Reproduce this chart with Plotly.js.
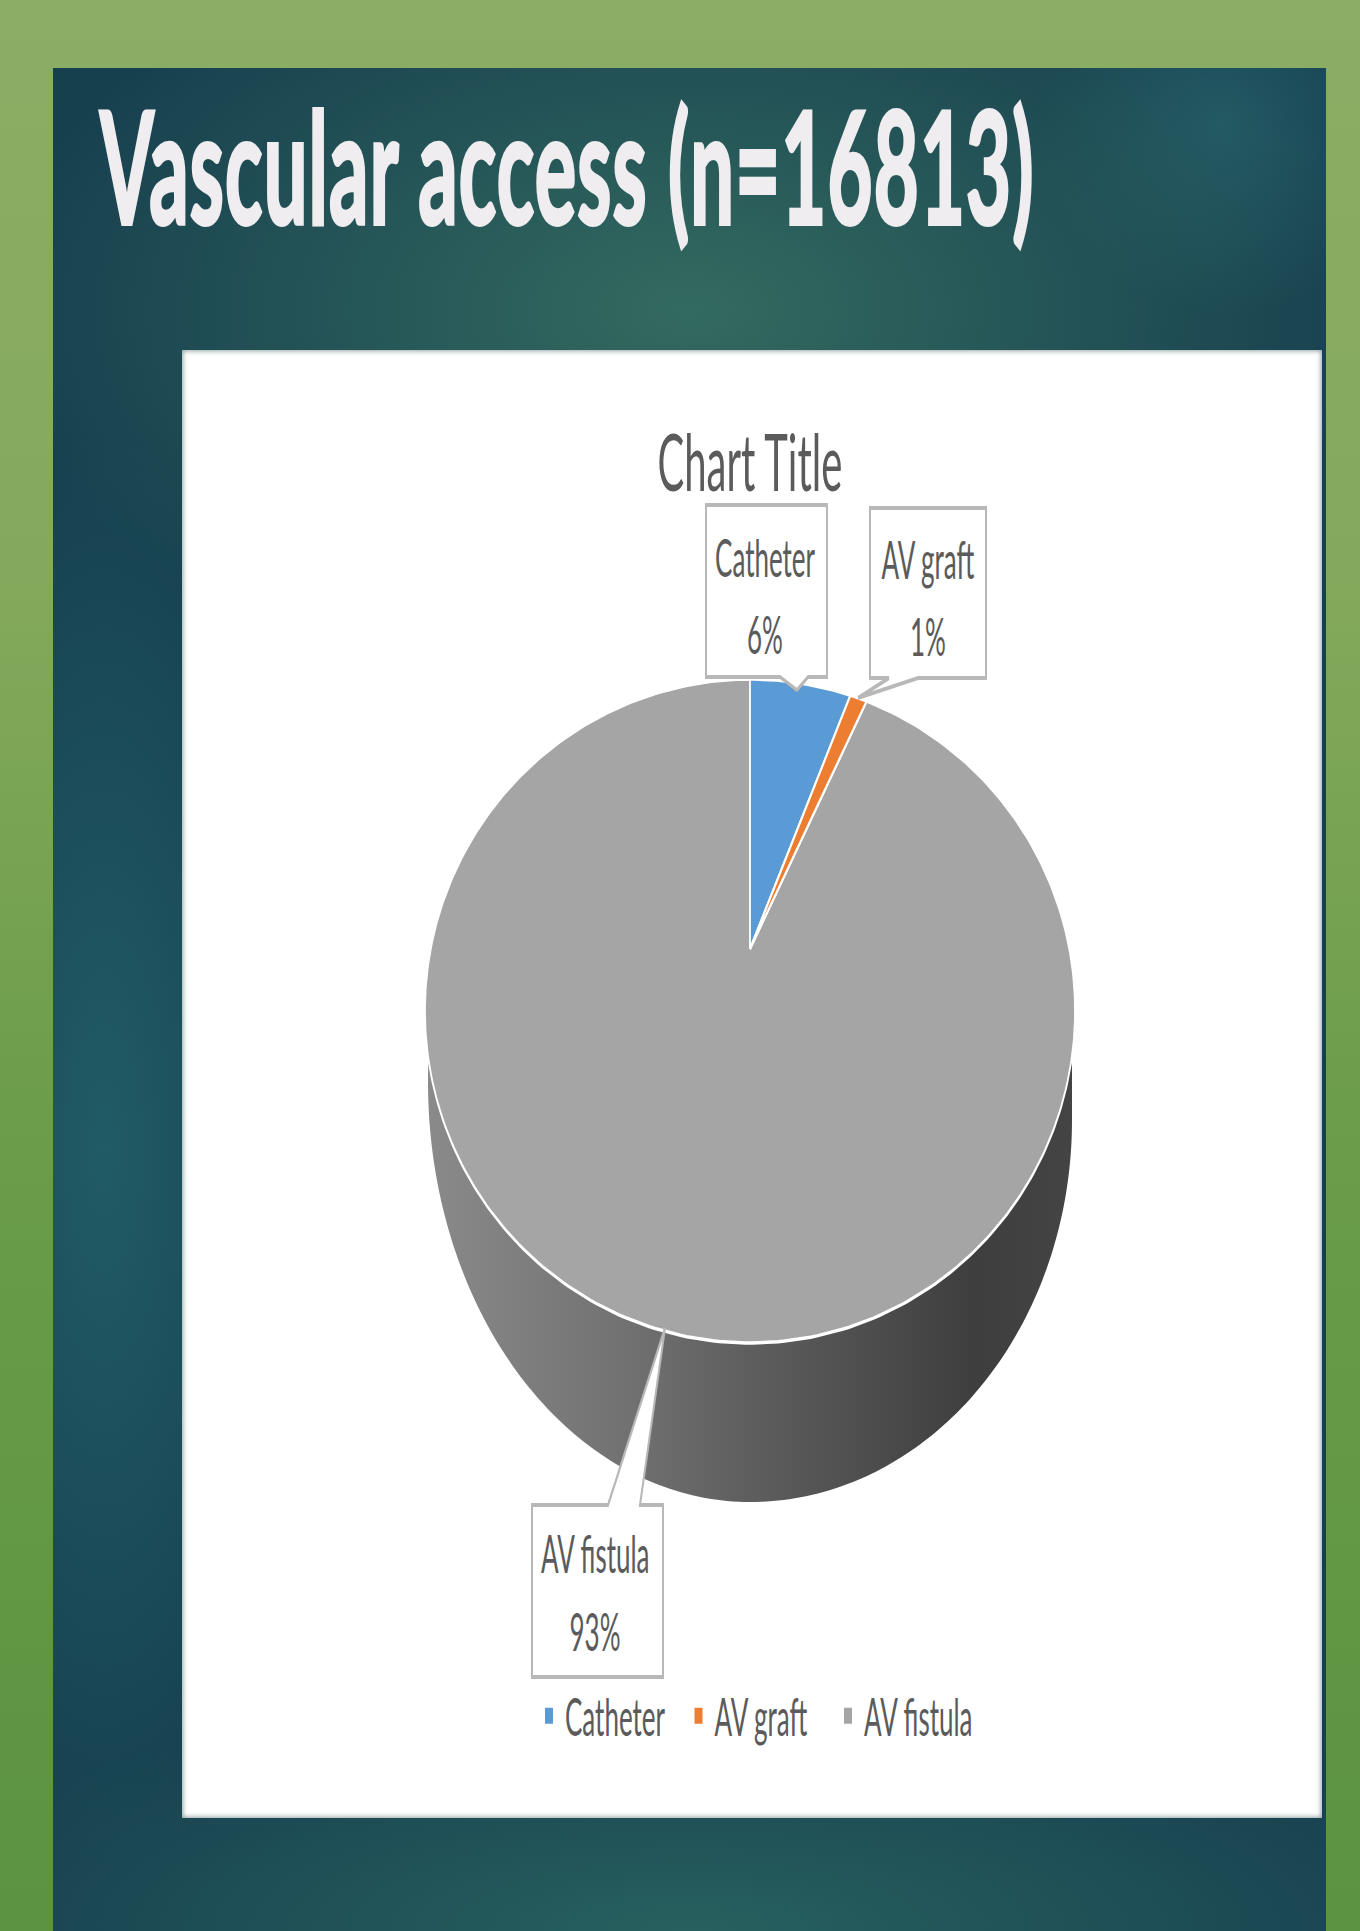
<!DOCTYPE html>
<html>
<head>
<meta charset="utf-8">
<title>Vascular access</title>
<script src="https://cdn.plot.ly/plotly-3.0.1.min.js"></script>
<style>
  html, body { margin: 0; padding: 0; width: 1360px; height: 1931px; overflow: hidden; }
  body { position: relative; background: linear-gradient(180deg, #8bad65 0%, #84a95c 30%, #6a9c49 60%, #5b9340 100%); }
  #slide {
    position: absolute; left: 53px; top: 68px; width: 1273px; height: 1863px;
    background:
      radial-gradient(ellipse 700px 400px at 50% 13%, rgba(55,112,98,0.88), rgba(55,112,98,0) 100%),
      radial-gradient(ellipse 190px 190px at 92% 3%, rgba(38,98,108,0.7), rgba(38,98,108,0) 100%),
      radial-gradient(ellipse 220px 720px at 4% 58%, rgba(34,96,106,0.85), rgba(34,96,106,0) 100%),
      radial-gradient(ellipse 820px 240px at 50% 100%, rgba(42,102,98,0.85), rgba(42,102,98,0) 100%),
      #17404f;
  }
  #panel {
    position: absolute; left: 182px; top: 350px; width: 1140px; height: 1468px;
    background: #ffffff; box-shadow: inset 0 0 5px 1px #8fa0a2;
  }
  /* The slide's lettering is condensed horizontally, so the plot is laid out at double width */
  #stage { position: absolute; left: 0; top: 0; width: 2720px; height: 1931px; transform: scaleX(0.5); transform-origin: 0 0; }
  #stage .gtitle { letter-spacing: 2.5px; stroke: #efedef; stroke-width: 4px; }
</style>
</head>
<body>
<div id="slide"></div>
<div id="panel"></div>
<div id="stage"></div>
<script>
// Vascular access, share of patients by access type
const categories = ['Catheter', 'AV graft', 'AV fistula'];
const shares = [6, 1, 93];
const sliceColors = ['#5b9bd5', '#ed7d31', '#a5a5a5'];
const slideTitle = 'Vascular access (n=16813)';
const chartTitle = 'Chart Title';

// Tilted disc seen in perspective: rim ellipse, wedge apex, two base quarters
const rim = { cx: 750, cy: 1011, rx: 325, ry: 332 };
const apex = { x: 750, y: 949 };
const baseLeft = { cx: 750, cy: 1082, rx: 322, ry: 420 };
const baseRight = { cx: 750, cy: 1120, rx: 322, ry: 382 };

// Where a ray leaving the apex at a clockwise angle from 12 o'clock meets the rim
function rimPoint(theta) {
  const ux = (apex.x - rim.cx) / rim.rx, uy = (apex.y - rim.cy) / rim.ry;
  const vx = Math.sin(theta) / rim.rx, vy = -Math.cos(theta) / rim.ry;
  const a = vx * vx + vy * vy, b = 2 * (ux * vx + uy * vy), c = ux * ux + uy * uy - 1;
  const t = (-b + Math.sqrt(b * b - 4 * a * c)) / (2 * a);
  return [apex.x + t * Math.sin(theta), apex.y - t * Math.cos(theta)];
}

function sliceOutline(fromShare, toShare) {
  const start = fromShare / 100 * 2 * Math.PI, end = toShare / 100 * 2 * Math.PI;
  const steps = Math.max(4, Math.round((end - start) * 60));
  const xs = [apex.x], ys = [apex.y];
  for (let i = 0; i <= steps; i++) {
    const p = rimPoint(start + (end - start) * i / steps);
    xs.push(p[0]); ys.push(p[1]);
  }
  xs.push(apex.x); ys.push(apex.y);
  return { xs, ys };
}

// Side wall: down the right edge, along the base to the left edge, back along the rim
function wallOutline() {
  const xs = [], ys = [];
  const joinY = 1061;
  const rimLift = Math.asin((joinY - rim.cy) / rim.ry);
  xs.push(baseRight.cx + baseRight.rx); ys.push(joinY);
  for (let i = 0; i <= 90; i++) {
    const t = (Math.PI / 2) * i / 90;
    xs.push(baseRight.cx + baseRight.rx * Math.cos(t)); ys.push(baseRight.cy + baseRight.ry * Math.sin(t));
  }
  const leftLift = Math.asin((baseLeft.cy - joinY) / baseLeft.ry);
  for (let i = 0; i <= 90; i++) {
    const t = Math.PI / 2 + (Math.PI / 2 + leftLift) * i / 90;
    xs.push(baseLeft.cx + baseLeft.rx * Math.cos(t)); ys.push(baseLeft.cy + baseLeft.ry * Math.sin(t));
  }
  for (let i = 180; i >= 0; i--) {
    const t = rimLift + (Math.PI - 2 * rimLift) * i / 180;
    xs.push(rim.cx + rim.rx * Math.cos(t)); ys.push(rim.cy + rim.ry * Math.sin(t));
  }
  return { xs, ys };
}

const wall = wallOutline();
const traces = [{
  type: 'scatter', mode: 'none', x: wall.xs, y: wall.ys, fill: 'toself', showlegend: false, hoverinfo: 'skip',
  fillgradient: { type: 'horizontal', colorscale: [[0, '#8a8a8a'], [0.3, '#727272'], [0.5, '#5e5e5e'], [0.85, '#3e3e3e'], [1, '#444444']] }
}];

// Largest slice first so that the small ones sit on top of it
let cumulative = 0;
const sliceTraces = categories.map((name, i) => {
  const o = sliceOutline(cumulative, cumulative + shares[i]);
  cumulative += shares[i];
  return {
    type: 'scatter', mode: 'lines', x: o.xs, y: o.ys, fill: 'toself', name, fillcolor: sliceColors[i],
    line: { color: '#ffffff', width: 3.5 }, showlegend: false, hoverinfo: 'name'
  };
});
traces.push(sliceTraces[2], sliceTraces[0], sliceTraces[1]);

// Legend keys
categories.forEach((name, i) => traces.push({
  type: 'scatter', mode: 'markers', x: [null], y: [null], name,
  marker: { symbol: 'square', size: 20, color: sliceColors[i] }, hoverinfo: 'skip'
}));

// Callout outlines: rectangle with a wedge running to the slice
const callouts = [
  'M706,505 L827,505 L827,677 L808,677 L797,690 L780,677 L706,677 Z',
  'M870,508 L986,508 L986,678 L918,678 L858,698 L889,678 L870,678 Z',
  'M532,1505 L608,1505 L665,1328 L640,1505 L663,1505 L663,1677 L532,1677 Z'
];
const shapes = callouts.map(path => ({
  type: 'path', xref: 'x', yref: 'y', path, fillcolor: '#ffffff', line: { color: '#b8b8b8', width: 4 }
}));

const labelX = [765, 928, 595];
const labelNameY = [557, 559, 1553];
const labelShareY = [634, 636, 1631];
const annotations = [{
  text: chartTitle, x: 750, y: 460, xref: 'x', yref: 'y', showarrow: false,
  font: { family: 'Lato, sans-serif', size: 80, color: '#5b5b5b' }
}];
categories.forEach((name, i) => {
  const font = { family: 'Lato, sans-serif', size: 52, color: '#5b5b5b' };
  annotations.push({ text: name, x: labelX[i], y: labelNameY[i], xref: 'x', yref: 'y', showarrow: false, font });
  annotations.push({ text: shares[i] + '%', x: labelX[i], y: labelShareY[i], xref: 'x', yref: 'y', showarrow: false, font });
});

const layout = {
  width: 2720, height: 1931, autosize: false,
  margin: { l: 0, r: 0, t: 0, b: 0, pad: 0 },
  paper_bgcolor: 'rgba(0,0,0,0)', plot_bgcolor: 'rgba(0,0,0,0)',
  xaxis: { range: [0, 1360], visible: false, fixedrange: true },
  yaxis: { range: [1931, 0], visible: false, fixedrange: true },
  title: {
    text: slideTitle, xref: 'container', yref: 'container', x: 100 / 1360, xanchor: 'left', y: 1 - 170 / 1931, yanchor: 'middle',
    font: { family: 'Lato, sans-serif', size: 155, weight: 700, color: '#efedef' }
  },
  shapes, annotations,
  legend: {
    orientation: 'h', x: 533 / 1360, xanchor: 'left', y: 1 - 1716 / 1931, yanchor: 'middle',
    itemwidth: 54, entrywidth: 230, entrywidthmode: 'pixels',
    font: { family: 'Lato, sans-serif', size: 52, color: '#5b5b5b' }, bgcolor: 'rgba(0,0,0,0)', traceorder: 'normal', itemclick: false, itemdoubleclick: false
  },
  hovermode: 'closest'
};

Plotly.newPlot('stage', traces, layout, { displayModeBar: false });
</script>
</body>
</html>
